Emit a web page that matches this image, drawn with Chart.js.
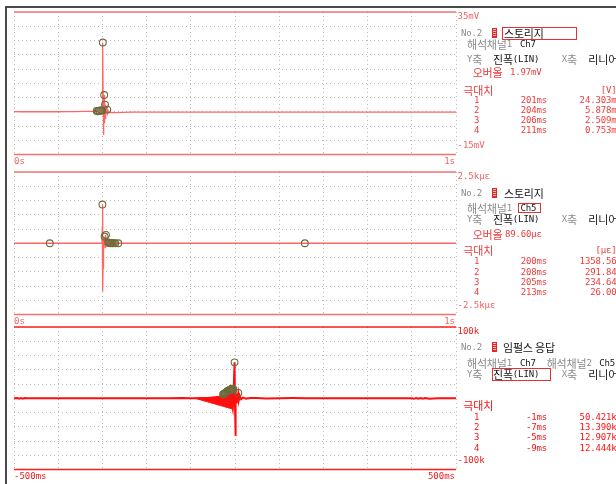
<!DOCTYPE html>
<html><head><meta charset="utf-8">
<script src="https://cdn.jsdelivr.net/npm/chart.js@4.4.0/dist/chart.umd.min.js"></script>
<style>
html,body{margin:0;padding:0;background:#fff;}
#wrap{position:relative;width:616px;height:484px;overflow:hidden;background:#fff;}
canvas.c{position:absolute;left:0;}
.t{position:absolute;display:flex;align-items:center;white-space:pre;font-family:"DejaVu Sans Mono",monospace;font-size:9px;line-height:12px;height:12px;letter-spacing:-0.15px;}
.k{font-family:"Noto Sans CJK KR",sans-serif;font-size:11px;line-height:12px;letter-spacing:-0.2px;}
.box{position:absolute;border:1px solid #e83030;box-sizing:border-box;}
.icon{position:absolute;width:5px;height:10px;box-sizing:border-box;border:1px solid #e02828;background:repeating-linear-gradient(0deg,#e02828 0 1px,#ffc0c0 1px 2px);}
.fr{position:absolute;background:#4a4a4a;}
</style></head>
<body><div id="wrap">
<div class="fr" style="left:5px;top:6px;width:2px;height:478px"></div>
<div class="fr" style="left:5px;top:6px;width:611px;height:2px"></div>
<canvas class="c" id="c1" width="616" height="172" style="top:0px"></canvas>
<canvas class="c" id="c2" width="616" height="172" style="top:160px"></canvas>
<canvas class="c" id="c3" width="616" height="169" style="top:315px"></canvas>
</div>
<script>
// ---------- Panel 1 : storage Ch7 (ms, mV) ----------
const p1Ms = [0,20,40,60,80,100,120,140,160,175,185,190,195,198,199.5,200.2,201,201.6,202.2,202.8,203.4,204,204.6,205.2,206,206.6,207.2,208,209,210,211,212,214,217,222,230,245,265,300,350,400,450,500,550,600,650,700,750,800,850,900,950,1000];
const p1Mv = [0.05,0,0.05,0,0.05,0,0.05,0.05,0.1,0.15,0.2,0.25,0.3,0.4,1.5,12,24.303,6,-8.2,-3,-6.5,5.878,-4,-1.5,2.509,-2.5,0.5,-1.2,0.4,-0.5,0.753,-0.6,0.1,-0.4,-0.2,-0.3,-0.2,-0.1,-0.15,-0.1,-0.15,-0.1,-0.15,-0.1,-0.15,-0.1,-0.15,-0.1,-0.15,-0.1,-0.15,-0.1,-0.1];
const p1PeakMs = [201,204,206,211];
const p1PeakMv = [24.303,5.878,2.509,0.753];
const p1PeakLbl = ['24.303m','5.878m','2.509m','0.753m'];
const p1MinorMs = [187,189.5,192,194.5,197,199.5];
const p1MinorMv = [0.3,0.2,0.4,0.3,0.5,0.4];
const p1YTicks = ['35mV','-15mV'];
const p1XTicks = ['0s','1s'];

// ---------- Panel 2 : storage Ch5 (ms, micro-strain) ----------
const p2Ms = [0,50,81,100,150,180,195,199,199.8,200.2,200.6,201,201.5,202,203,204,205,206,207,208,209,210,211,212,213,215,218,222,230,250,300,350,400,450,500,550,600,658,700,750,800,850,900,950,1000];
const p2Ue = [0,0,0,0,0,0,0,0,600,1358.56,-860,-1690,-860,200,-100,150,234.64,-150,100,291.84,-50,60,-40,30,26,-10,10,0,0,0,0,0,0,0,0,0,0,0,0,0,0,0,0,0,0];
const p2PeakMs = [200,208,205,213];
const p2PeakUe = [1358.56,291.84,234.64,26.00];
const p2PeakLbl = ['1358.56','291.84','234.64','26.00'];
const p2MinorMs = [81,215.5,218,220.5,223,226,229,236,658];
const p2MinorUe = [0,10,0,5,0,5,0,0,0];
const p2YTicks = ['2.5kμε','-2.5kμε'];
const p2XTicks = ['0s','1s'];

// ---------- Panel 3 : impulse response (ms, k) ----------
const p3Ms = [-500,-492,-488,-484,-480,-476,-470,-460,-440,-400,-350,-300,-250,-200,-150,-120,-100,-92,-60,-30,-10,-5,-3.8,-1,0,0.6,1.4,2.2,3,4,5,6,7.5,9,11,14,18,25,35,50,70,100,130,160,200,250,300,350,380,400,405,410,415,420,425,430,440,460,500];
const p3K = [0,0.4,-0.5,0.3,-0.5,0.3,0,0,0,0,0,0,0,0,0,0.3,0,0,0.5,1,2,-14.5,-5,50.421,-10,-53,-8,10,-6,6,-4,3,7.5,-2,3,-1.5,1,-0.5,0.3,0.2,-0.2,0,0.2,0,0,0,0,0,0,0,-0.6,0.3,-0.7,0.3,-0.7,0.3,-0.6,0,0];
const p3EnvMs = [-92,-85,-75,-65,-55,-45,-35,-25,-18,-12,-8,-5.5,-4];
const p3EnvLoK = [0,-1.0,-2.8,-4.5,-6.3,-8.1,-9.9,-11.6,-12.9,-14,-14.7,-14.8,-9];
const p3EnvHiK = [0,0.3,0.6,1.0,1.4,2.0,2.8,3.8,5,6.5,8,9,5];
const p3PeakMs = [-1,-7,-5,-9];
const p3PeakK = [50.421,13.390,12.907,12.444];
const p3PeakLbl = ['50.421k','13.390k','12.907k','12.444k'];
const p3MinorMs = [-27,-25.5,-24,-22.5,-21,-19.5,-18,-16.5,-15,-13.5,-12,-10.5,-8,-6,-3.5,7.5];
const p3MinorK = [5.2,5.9,6.5,7.2,7.8,8.6,9.5,10,10.5,11,11.5,12,12.9,13.2,12.3,7.5];
const p3YTicks = ['100k','-100k'];
const p3XTicks = ['-500ms','500ms'];

function pts(xs, ys){ return xs.map((x,i)=>({x:x, y:ys[i]})); }

const deco = {
  id:'deco',
  afterDatasetsDraw(chart, args, o){
    const ctx = chart.ctx, xs = chart.scales.x, ys = chart.scales.y;
    ctx.save();
    const yt = ys.getPixelForValue(o.yMax), yb = ys.getPixelForValue(o.yMin);
    const xl = xs.getPixelForValue(o.xMin), xr = xs.getPixelForValue(o.xMax);
    ctx.strokeStyle = o.frame;
    ctx.lineWidth = o.frameW;
    ctx.beginPath(); ctx.moveTo(xl, yt); ctx.lineTo(xr, yt); ctx.stroke();
    ctx.lineWidth = o.frameWB;
    ctx.beginPath(); ctx.moveTo(xl, yb); ctx.lineTo(xr, yb); ctx.stroke();
    ctx.fillStyle = o.tick;
    ctx.font = '9px "DejaVu Sans Mono"';
    ctx.textBaseline = 'middle';
    ctx.textAlign = 'left';
    ctx.fillText(o.yTicks[0], xr + 1.5, yt + 5);
    ctx.fillText(o.yTicks[1], xr + 1.5, yb - 8.8);
    ctx.fillText(o.xTicks[0], xl, yb + 7.5);
    ctx.textAlign = 'right';
    ctx.fillText(o.xTicks[1], xr - 1, yb + 7.5);
    ctx.restore();
  }
};

const MARK = '#6f6a3a';
function markerSet(xs, ys){
  return {data:pts(xs,ys), showLine:false, pointRadius:3.4, pointHoverRadius:3.4, pointBorderWidth:1.1,
          pointBorderColor:MARK, pointBackgroundColor:'rgba(0,0,0,0)', borderColor:MARK, order:0};
}
function lineSet(xs, ys, color, w){
  return {data:pts(xs,ys), borderColor:color, borderWidth:w, pointRadius:0, tension:0, fill:false, order:5};
}

function makeChart(id, padBottom, xMin, xMax, yMin, yMax, datasets, deco_opts){
  const hide = {display:false};
  return new Chart(document.getElementById(id), {
    type:'line',
    data:{datasets:datasets},
    options:{
      responsive:false, animation:false, devicePixelRatio:1, events:[],
      layout:{padding:{left:14, right:160, top:12, bottom:padBottom}},
      plugins:{legend:hide, tooltip:{enabled:false}, deco:Object.assign({xMin:xMin,xMax:xMax,yMin:yMin,yMax:yMax}, deco_opts)},
      scales:{
        x:{type:'linear', min:xMin, max:xMax, ticks:{display:false, stepSize:(xMax-xMin)/10},
           grid:{color:'#bcbcbc', lineWidth:1, drawTicks:false}, border:{display:false, dash:[1,3]},
           afterFit:function(s){ s.height = 0; }},
        y:{type:'linear', min:yMin, max:yMax, ticks:{display:false, stepSize:(yMax-yMin)/10},
           grid:{color:'#bcbcbc', lineWidth:1, drawTicks:false}, border:{display:false, dash:[1,3]},
           afterFit:function(s){ s.width = 0; }}
      }
    },
    plugins:[deco]
  });
}

const L1 = '#ff6666', F1 = '#f07474', T1 = '#f06464';
makeChart('c1', 17.5, 0, 1000, -15, 35, [
  markerSet(p1PeakMs.concat(p1MinorMs), p1PeakMv.concat(p1MinorMv)),
  lineSet(p1Ms, p1Mv, L1, 1.3)
], {frame:F1, frameW:1.3, frameWB:1.3, tick:T1, yTicks:p1YTicks, xTicks:p1XTicks});

makeChart('c2', 17.5, 0, 1000, -2500, 2500, [
  markerSet(p2PeakMs.concat(p2MinorMs), p2PeakUe.concat(p2MinorUe)),
  lineSet(p2Ms, p2Ue, L1, 1.3)
], {frame:F1, frameW:1.3, frameWB:1.3, tick:T1, yTicks:p2YTicks, xTicks:p2XTicks});

const L3 = '#ff0e0e';
makeChart('c3', 14.5, -500, 500, -100, 100, [
  markerSet(p3PeakMs.concat(p3MinorMs), p3PeakK.concat(p3MinorK)),
  Object.assign(lineSet(p3EnvMs, p3EnvHiK, L3, 1), {order:6}),
  Object.assign(lineSet(p3EnvMs, p3EnvLoK, L3, 1), {order:6, fill:'-1', backgroundColor:L3}),
  lineSet(p3Ms, p3K, L3, 2)
], {frame:'#ff1c1c', frameW:1.3, frameWB:1.6, tick:'#ee1c1c', yTicks:p3YTicks, xTicks:p3XTicks});

// ---------- info panels (real text) ----------
const wrap = document.getElementById('wrap');
const G = '#8a8a8a', K = '#151515', R = '#f03a3a', R3 = '#ff1212';
function T(x, yc, html, color, right){
  const d = document.createElement('div');
  d.className = 't'; d.innerHTML = html; d.style.color = color;
  d.style.top = (yc - 6) + 'px';
  if (right) d.style.right = (616 - x) + 'px'; else d.style.left = x + 'px';
  wrap.appendChild(d);
}
function box(x, y, w, h){ const d=document.createElement('div'); d.className='box';
  d.style.left=x+'px'; d.style.top=y+'px'; d.style.width=w+'px'; d.style.height=h+'px'; wrap.appendChild(d); }
function icon(x, y){ const d=document.createElement('div'); d.className='icon';
  d.style.left=x+'px'; d.style.top=y+'px'; wrap.appendChild(d); }
const k = s => '<span class="k">' + s + '</span>';

function axisRow(yc){
  T(467, yc, 'Y' + k('축'), G);
  T(493, yc, k('진폭') + '(LIN)', K);
  T(561.7, yc, 'X' + k('축'), G);
  T(588.3, yc, k('리니어'), K);
}
function peakRows(ys, times, lbls, color){
  for (let i = 0; i < 4; i++){
    T(474, ys[i], String(i + 1), color);
    T(547, ys[i], times[i] + 'ms', color, true);
    T(616.5, ys[i], lbls[i], color, true);
  }
}

// panel 1
T(461, 33, 'No.2', G); icon(492, 28); box(502, 27, 75, 13); T(504, 33, k('스토리지'), K);
T(467, 43.7, k('해석채널') + '<span>1</span>', G); T(520, 43.7, 'Ch7', K);
axisRow(59.3);
T(472.7, 71.5, k('오버올'), R); T(510, 71.5, '1.97mV', R);
T(463.3, 89.5, k('극대치'), R); T(616.5, 89.5, '[V]', R, true);
peakRows([99.5, 109.5, 119.6, 130.2], p1PeakMs, p1PeakLbl, R);

// panel 2
T(461, 192.5, 'No.2', G); icon(492, 187.5); T(504, 192.5, k('스토리지'), K);
T(467, 207.5, k('해석채널') + '<span>1</span>', G); box(518, 202.5, 22.5, 10); T(520.5, 207.5, 'Ch5', K);
axisRow(218.5);
T(472.7, 234, k('오버올'), R); T(505, 234, '89.60με', R);
T(463.3, 250.3, k('극대치'), R); T(616.5, 250.3, '[με]', R, true);
peakRows([261, 271.5, 281.7, 291.8], p2PeakMs, p2PeakLbl, R);

// panel 3
T(461, 347.2, 'No.2', G); icon(492, 342.2); T(503, 347.2, k('임펄스 응답'), K);
T(467, 362.5, k('해석채널') + '<span>1</span>', G); T(520, 362.5, 'Ch7', K);
T(546.7, 362.5, k('해석채널') + '<span>2</span>', G); T(599.3, 362.5, 'Ch5', K);
axisRow(373.8); box(491.7, 368.2, 59, 13);
T(463.3, 405.3, k('극대치'), R3);
peakRows([416.7, 426.9, 437.2, 447.6], p3PeakMs, p3PeakLbl, R3);
</script>
</body></html>
